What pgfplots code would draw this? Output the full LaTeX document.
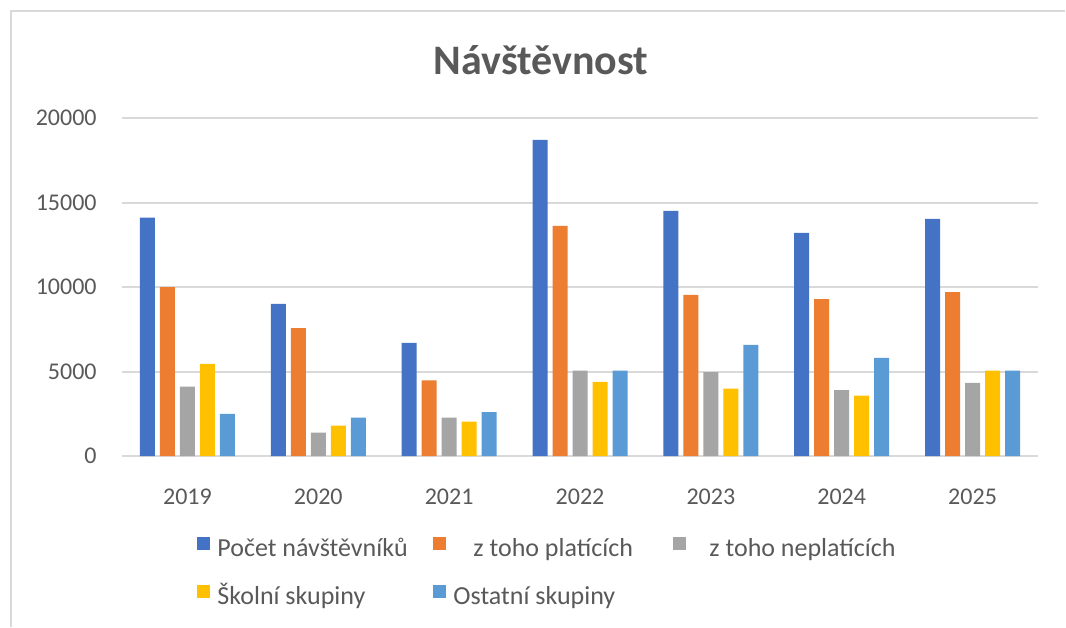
\documentclass[border=0pt]{standalone}
\usepackage{pgfplots}
\pgfplotsset{compat=1.18}
\usepackage{fontspec}
\setmainfont{Carlito}
\definecolor{cBlue}{HTML}{4472C4}
\definecolor{cOrange}{HTML}{ED7D31}
\definecolor{cGray}{HTML}{A5A5A5}
\definecolor{cYellow}{HTML}{FFC000}
\definecolor{cLBlue}{HTML}{5B9BD5}
\definecolor{cText}{HTML}{595959}
\definecolor{cGrid}{HTML}{D9D9D9}
\begin{document}
\begin{tikzpicture}
\path[use as bounding box] (0,0) rectangle (533pt,313.5pt);
\draw[cGrid, line width=1pt] (5.5pt,0) -- (5.5pt,308pt) -- (532.5pt,308pt);
\node[font=\fontsize{21pt}{24pt}\selectfont\bfseries, text=cText] at (270.5pt,283.5pt) {Návštěvnost};
\begin{axis}[
  at={(61pt,85.5pt)}, anchor=south west,
  scale only axis, width=458pt, height=169pt,
  xmin=-0.5, xmax=6.5, ymin=0, ymax=20000,
  scaled y ticks=false,
  ybar=2.5pt, bar width=7.5pt,
  xtick={0,1,2,3,4,5,6},
  xticklabels={2019,2020,2021,2022,2023,2024,2025},
  ytick={0,5000,10000,15000,20000},
  yticklabels={0,5000,10000,15000,20000},
  ymajorgrids, major grid style={cGrid, line width=1pt},
  axis line style={draw=none}, tick style={draw=none},
  tick label style={font=\fontsize{12pt}{14pt}\selectfont, text=cText, inner sep=0pt},
  yticklabel style={xshift=-12.5pt},
  xticklabel style={yshift=-12pt},
  legend columns=3,
  legend cell align=left,
  legend image code/.code={\fill[#1] (0pt,-0.25pt) rectangle (6.5pt,6.25pt);},
  legend style={draw=none, fill=none, at={(0.0754,-0.2278)}, anchor=north west,
    font=\fontsize{13pt}{15pt}\selectfont, text=cText,
    nodes={inner sep=0pt, text height=9.5pt, text depth=3pt},
    row sep=11.5pt, column sep=0pt,
    /tikz/every odd column/.append style={column sep=3.5pt}},
]
\addplot[fill=cBlue, draw=none] coordinates {(0,14100) (1,9000) (2,6700) (3,18700) (4,14500) (5,13200) (6,14030)};
\addplot[fill=cOrange, draw=none] coordinates {(0,10000) (1,7570) (2,4470) (3,13620) (4,9540) (5,9280) (6,9700)};
\addplot[fill=cGray, draw=none] coordinates {(0,4100) (1,1380) (2,2270) (3,5050) (4,4970) (5,3900) (6,4320)};
\addplot[fill=cYellow, draw=none] coordinates {(0,5450) (1,1800) (2,2030) (3,4380) (4,3980) (5,3570) (6,5050)};
\addplot[fill=cLBlue, draw=none] coordinates {(0,2500) (1,2270) (2,2600) (3,5050) (4,6580) (5,5800) (6,5050)};
\legend{\makebox[108pt][l]{Počet návštěvníků},
        \makebox[110pt][l]{\hspace{10pt}z toho platících},
        \makebox[100pt][l]{\hspace{8pt}z toho neplatících},
        \makebox[108pt][l]{Školní skupiny},
        \makebox[110pt][l]{Ostatní skupiny}}
\end{axis}
\end{tikzpicture}
\end{document}
